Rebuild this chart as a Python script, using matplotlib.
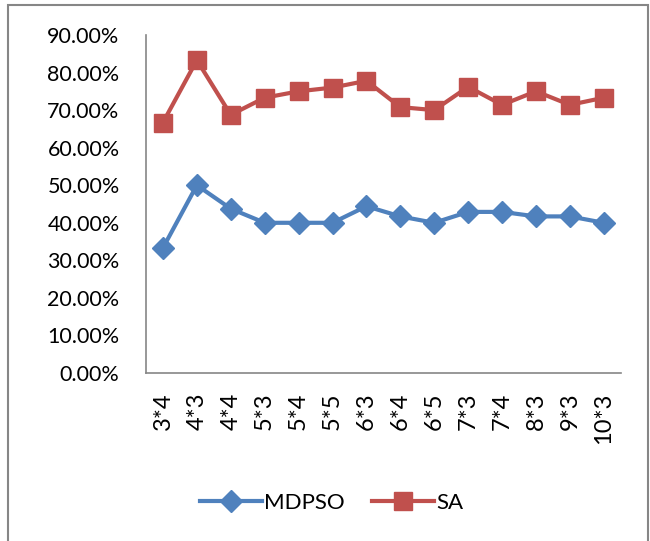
import matplotlib
matplotlib.use('Agg')
import matplotlib.pyplot as plt
from matplotlib.patches import Rectangle
from matplotlib.ticker import PercentFormatter

# Dados do gráfico
categorias = ['3*4', '4*3', '4*4', '5*3', '5*4', '5*5', '6*3', '6*4', '6*5',
              '7*3', '7*4', '8*3', '9*3', '10*3']
mdpso = [0.333, 0.50, 0.4375, 0.40, 0.40, 0.40, 0.444, 0.417, 0.40,
         0.429, 0.429, 0.417, 0.417, 0.40]
sa = [0.667, 0.833, 0.6875, 0.733, 0.75, 0.76, 0.778, 0.708, 0.70,
      0.762, 0.714, 0.75, 0.714, 0.733]

plt.rcParams['font.family'] = ['Lato', 'DejaVu Sans']

AZUL = '#4F81BD'
VERMELHO = '#C0504D'
CINZA = '#868686'

fig = plt.figure(figsize=(6.5, 5.41), dpi=100)
ax = fig.add_axes([0.2246, 0.3105, 0.955 - 0.2246, 0.9353 - 0.3105])

x = range(len(categorias))
ax.plot(x, mdpso, color=AZUL, lw=3, marker='D', markersize=11, label='MDPSO')
ax.plot(x, sa, color=VERMELHO, lw=3, marker='s', markersize=13, label='SA')

ax.set_ylim(0, 0.9)
ax.set_yticks([i / 10 for i in range(10)])
ax.yaxis.set_major_formatter(PercentFormatter(1.0, decimals=2))
ax.set_xlim(-0.5, len(categorias) - 0.5)
ax.set_xticks(list(x))
ax.set_xticklabels(categorias, rotation=90)

ax.tick_params(axis='both', length=0, colors='black')
ax.tick_params(axis='y', pad=19, labelsize=15.5)
ax.tick_params(axis='x', pad=14, labelsize=17)
for lado in ['top', 'right']:
    ax.spines[lado].set_visible(False)
for lado in ['left', 'bottom']:
    ax.spines[lado].set_color(CINZA)
    ax.spines[lado].set_linewidth(1.2)

fig.legend(loc='center', bbox_to_anchor=(0.51, 0.07), ncol=2, frameon=False,
           fontsize=16, handlelength=2.8, handletextpad=0.1, columnspacing=1.2)

# Borda cinza ao redor da figura
fig.patches.append(Rectangle((8 / 650, -0.01), 640 / 650, 1 - 5 / 541 + 0.01,
                             transform=fig.transFigure, fill=False,
                             edgecolor=CINZA, lw=1.5))

fig.savefig('out.png', dpi=100)
